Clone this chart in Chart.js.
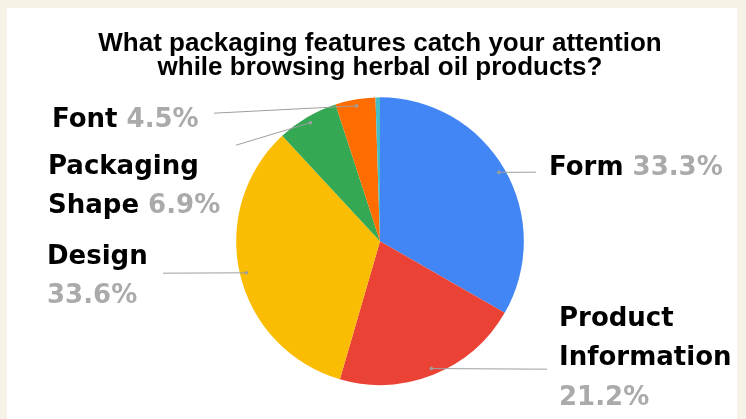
<!DOCTYPE html>
<html>
<head>
<meta charset="utf-8">
<script src="https://cdn.jsdelivr.net/npm/chart.js@4.4.1/dist/chart.umd.min.js"></script>
<style>
  html, body { margin: 0; padding: 0; }
  body { width: 746px; height: 419px; background: #f6f2e5; overflow: hidden; position: relative; }
  #panel { position: absolute; left: 7px; top: 8px; width: 730px; height: 411px; background: #fff; }
</style>
</head>
<body>
<div id="panel"><canvas id="pieChart" width="730" height="411"></canvas></div>
<script>
const categories = ['Form', 'Product Information', 'Design', 'Packaging Shape', 'Font', 'Other'];
const shares = [33.3, 21.2, 33.6, 6.9, 4.5, 0.5];
const sliceColors = ['#4285f4', '#ea4335', '#fbbc04', '#34a853', '#ff6d01', '#46bdc6'];
const titleLines = ['What packaging features catch your attention', 'while browsing herbal oil products?'];

// where each callout sits, relative to the pie centre ('%' = percentage)
const calloutLayout = {
  'Form': { end: [156, -69], x: 169, y: -73, lines: [['Form', '%']] },
  'Product Information': { end: [167, 128], x: 179, y: 78, lines: [['Product'], ['Information'], ['%']] },
  'Design': { end: [-217, 32], x: -333, y: 16, lines: [['Design'], ['%']] },
  'Packaging Shape': { end: [-144, -96], x: -332, y: -74, lines: [['Packaging'], ['Shape', '%']] },
  'Font': { end: [-166, -128], x: -328, y: -121, lines: [['Font', '%']] }
};

const calloutPlugin = {
  id: 'callouts',
  afterDatasetsDraw(chart) {
    const ctx = chart.ctx;
    const meta = chart.getDatasetMeta(0);
    const values = chart.data.datasets[0].data;
    const total = values.reduce((a, b) => a + b, 0);
    ctx.save();
    meta.data.forEach((arc, i) => {
      const cfg = calloutLayout[chart.data.labels[i]];
      if (!cfg) return;
      const mid = (arc.startAngle + arc.endAngle) / 2;
      const r = arc.outerRadius * 0.955;
      const dx = arc.x + Math.cos(mid) * r;
      const dy = arc.y + Math.sin(mid) * r;

      ctx.strokeStyle = '#9e9e9e';
      ctx.lineWidth = 1;
      ctx.beginPath();
      ctx.moveTo(arc.x + cfg.end[0], arc.y + cfg.end[1]);
      ctx.lineTo(dx, dy);
      ctx.stroke();
      ctx.fillStyle = '#9e9e9e';
      ctx.beginPath();
      ctx.arc(dx, dy, 1.8, 0, Math.PI * 2);
      ctx.fill();

      const pct = (values[i] / total * 100).toFixed(1) + '%';
      ctx.font = 'bold 26px "DejaVu Sans"';
      ctx.textBaseline = 'middle';
      ctx.textAlign = 'left';
      cfg.lines.forEach((words, li) => {
        let x = arc.x + cfg.x;
        const y = arc.y + cfg.y + li * 39.5;
        words.forEach((w, wi) => {
          const isPct = w === '%';
          const txt = (isPct ? pct : w) + (wi < words.length - 1 ? ' ' : '');
          ctx.fillStyle = isPct ? '#aaaaaa' : '#000000';
          ctx.fillText(txt, x, y);
          x += ctx.measureText(txt).width;
        });
      });
    });
    ctx.restore();
  }
};

new Chart(document.getElementById('pieChart'), {
  type: 'pie',
  data: {
    labels: categories,
    datasets: [{
      data: shares,
      backgroundColor: sliceColors,
      borderWidth: 0
    }]
  },
  options: {
    responsive: false,
    animation: false,
    layout: { padding: { top: 0, bottom: 34, left: 16, right: 0 } },
    plugins: {
      legend: { display: false },
      tooltip: { enabled: false },
      title: {
        display: true,
        text: titleLines,
        color: '#000',
        font: { family: '"Liberation Sans", Arial, sans-serif', size: 26, weight: 'bold', lineHeight: 0.93 },
        padding: { top: 24, bottom: 17 }
      }
    }
  },
  plugins: [calloutPlugin]
});
</script>
</body>
</html>
